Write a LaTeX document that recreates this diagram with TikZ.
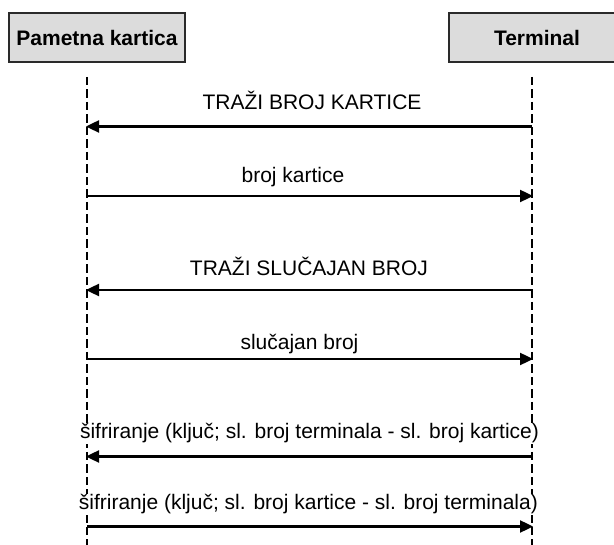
\documentclass[tikz,border=0pt]{standalone}
\usepackage{fontspec}
\setmainfont{Liberation Sans}
\usetikzlibrary{arrows.meta}
\definecolor{boxfill}{HTML}{DCDCDC}
\definecolor{boxline}{HTML}{2A2A2A}
\tikzset{
  actor/.style={draw=boxline, line width=2.2pt, fill=boxfill, minimum width=176pt, minimum height=49pt, inner sep=0pt, font=\fontsize{21}{25}\selectfont\bfseries},
  lifeline/.style={line width=2.4pt, dash pattern=on 8.5pt off 4pt},
  msg/.style={line width=2.4pt, -{Triangle[length=13pt,width=12pt]}, shorten >=-1pt},
  msgtext/.style={anchor=base, fill=white, inner sep=1pt, font=\fontsize{21}{25}\selectfont}
}
\begin{document}
\begin{tikzpicture}[x=1pt,y=-1pt]
\clip (0,0) rectangle (614,545);
\fill[white] (0,0) rectangle (614,545);
% actors
\node[actor] (card) at (97,37.5) {Pametna kartica};
\node[actor] (term) at (537,37.5) {Terminal};
% lifelines
\coordinate (cTop) at (87,77);
\coordinate (cBot) at (87,548);
\coordinate (tTop) at (532,77);
\coordinate (tBot) at (532,548);
\draw[lifeline] (cTop) -- (cBot);
\draw[lifeline] (tTop) -- (tBot);
% message anchor points
\coordinate (c1) at (87,126.5); \coordinate (t1) at (532,126.5);
\coordinate (c2) at (87,196);   \coordinate (t2) at (532,196);
\coordinate (c3) at (87,290);   \coordinate (t3) at (532,290);
\coordinate (c4) at (87,359);   \coordinate (t4) at (532,359);
\coordinate (c5) at (87,456.5); \coordinate (t5) at (532,456.5);
\coordinate (c6) at (87,526.5); \coordinate (t6) at (532,526.5);
% messages
\draw[msg] (t1) -- (c1);
\node[msgtext] (m1) at (312,109.3) {TRAŽI BROJ KARTICE};
\draw[msg] (c2) -- (t2);
\node[msgtext] (m2) at (293,182.7) {broj kartice};
\draw[msg] (t3) -- (c3);
\node[msgtext] (m3) at (309,276) {TRAŽI SLUČAJAN BROJ};
\draw[msg] (c4) -- (t4);
\node[msgtext] (m4) at (299.5,350) {slučajan broj};
\draw[msg] (t5) -- (c5);
\node[msgtext] (m5) at (309.5,439) {šifriranje (ključ; sl. broj terminala - sl. broj kartice)};
\draw[msg] (c6) -- (t6);
\node[msgtext] (m6) at (308.4,510) {šifriranje (ključ; sl. broj kartice - sl. broj terminala)};
\end{tikzpicture}
\end{document}
